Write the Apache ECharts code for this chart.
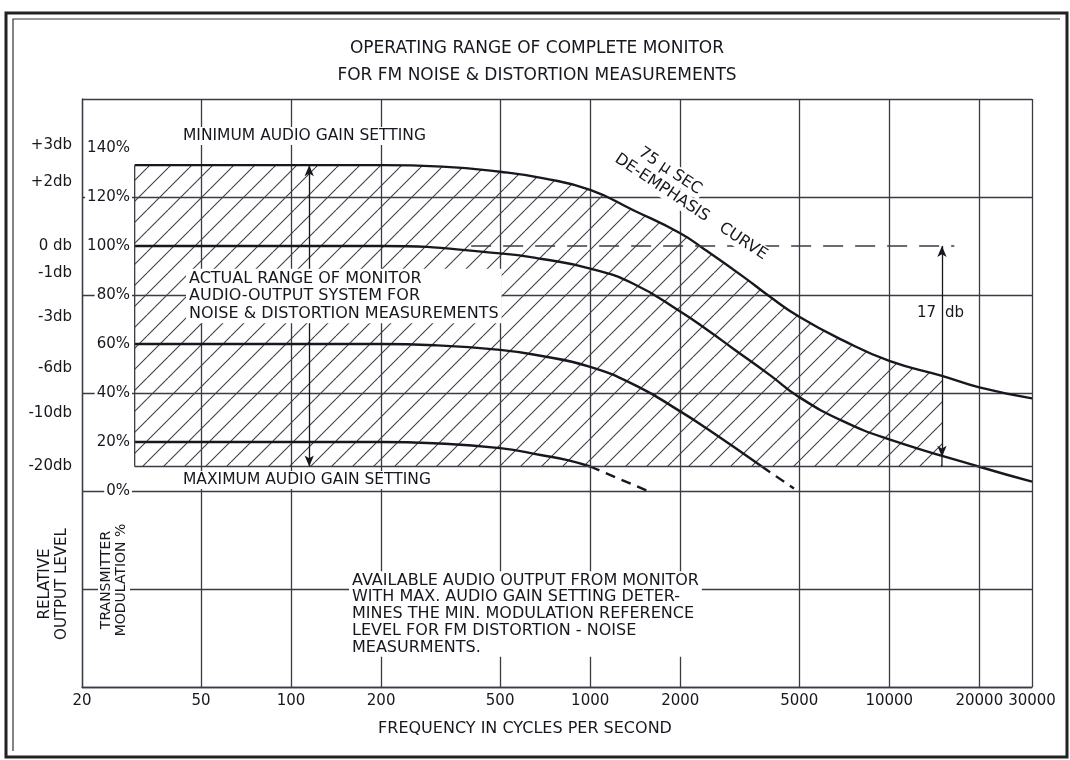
<!DOCTYPE html>
<html>
<head>
<meta charset="utf-8">
<script src="https://cdn.jsdelivr.net/npm/echarts@6.0.0/dist/echarts.min.js"></script>
<style>
  html, body { margin: 0; background: #fff; }
  #chart { width: 1070px; height: 760px; }
</style>
</head>
<body>
<div id="chart"></div>
<script>
// Operating range of complete monitor — FM noise & distortion measurements.
// Curves read off the scanned chart: x = frequency (Hz, log), y = transmitter modulation %.
const INK = '#17171f'
const GRID = '#3b3b45'
const FONT = '"DejaVu Sans", sans-serif'

const FREQ_TICKS = [20, 50, 100, 200, 500, 1000, 2000, 5000, 10000, 20000, 30000]
const PCT_LABELS = [0, 20, 40, 60, 80, 100, 120, 140]
const DB_LABELS = [3, 2, 0, -1, -3, -6, -10, -20]

// 75 µs de-emphasis curve (minimum audio gain, top of the range)
const TOP_F = [30, 110, 200, 320, 500, 700, 1000, 1400, 2000, 2420, 3290, 3920, 5000, 7000, 10000, 15000, 20000, 30000]
const TOP_P = [133, 133, 133, 132.4, 130.3, 127.6, 122.9, 114.5, 105.2, 98.5, 87, 80, 71.1, 61.5, 53.1, 47, 42.3, 37.8]
// curve starting at 100 %
const C100_F = [30, 200, 500, 700, 1000, 1400, 2000, 2500, 3000, 4000, 5000, 7000, 10000, 20000, 30000]
const C100_P = [100, 100, 97, 94.6, 90.8, 84.5, 73.3, 65.2, 58.2, 47.2, 38.3, 28.5, 21.1, 9.9, 3.8]
// curve starting at 60 %, dashed below the floor
const C60_F = [30, 200, 300, 500, 660, 1000, 1445, 2000, 2420, 3750]
const C60_P = [60, 60, 59.5, 57.6, 55.5, 50.7, 42.6, 32.5, 26, 10]
const C60_DASH_F = [3750, 4800]
const C60_DASH_P = [10, 1]
// curve starting at 20 %, dashed below the floor
const C20_F = [30, 200, 300, 500, 690, 840, 1000]
const C20_P = [20, 20, 19.5, 17.5, 14.6, 12.6, 10]
const C20_DASH_F = [1000, 1560]
const C20_DASH_P = [10, 0]

// maximum audio gain floor, hatched range limits, 0 db reference, arrows
const FLOOR_F = [30, 30000]
const FLOOR_P = 10
const HATCH_F = [30, 15000]
const REF_F = [400, 16500]
const REF_P = 100
const ARROW_F = [115, 15000]
const ARROW_TOP = [133, 100]
const ARROW_TIP = [10, 14]

const SMOOTH = 0.5
const zip = (f, p) => f.map((x, i) => [x, p[i]])

// diagonal hatch tile for the "actual range" area
function hatchTile() {
  const s = 21
  const c = document.createElement('canvas')
  c.width = c.height = s
  const g = c.getContext('2d')
  g.strokeStyle = '#40404a'
  g.lineWidth = 1.1
  g.beginPath()
  for (const o of [-s, 0, s]) { g.moveTo(o, s); g.lineTo(o + s, 0) }
  g.stroke()
  return c
}

const line = (data, o = {}) => ({
  type: 'line', data, showSymbol: false, silent: true,
  smooth: o.smooth || 0, z: o.z || 3,
  lineStyle: { color: o.color || INK, width: o.w || 2.4, type: o.dash || 'solid' },
})

const txt = (x, y, text, o = {}) => ({
  type: 'text', x, y, rotation: o.rot || 0, z: 50, silent: true,
  style: {
    text, fill: INK, fontFamily: FONT, fontSize: o.size || 15,
    align: o.align || 'left', verticalAlign: 'middle', lineHeight: o.lh,
    backgroundColor: o.bg ? '#fff' : null, padding: o.bg ? [1, 3] : 0,
  },
})

const chart = echarts.init(document.getElementById('chart'))
const floorSeries = line(zip(FLOOR_F, [FLOOR_P, FLOOR_P]), { color: GRID, w: 1.3 })
floorSeries.markLine = {
  silent: true, symbol: ['arrow', 'arrow'], symbolSize: [7, 11], label: { show: false },
  lineStyle: { color: INK, width: 1.3, type: 'solid' },
  data: ARROW_F.map((f, i) => [{ coord: [f, ARROW_TOP[i]] }, { coord: [f, ARROW_TIP[i]] }]),
}

chart.setOption({
  animation: false,
  backgroundColor: '#fff',
  grid: { left: 82, top: 99, right: 38, bottom: 73 },
  xAxis: {
    type: 'log', min: 20, max: 30000, logBase: 10,
    axisLine: { onZero: false, lineStyle: { color: GRID, width: 1.3 } },
    axisTick: { show: false, customValues: FREQ_TICKS },
    axisLabel: {
      customValues: FREQ_TICKS, margin: 7, color: INK, fontFamily: FONT, fontSize: 15,
      formatter: v => String(Math.round(v)),
    },
    splitLine: { show: true, lineStyle: { color: GRID, width: 1.3 } },
    minorSplitLine: { show: false },
  },
  yAxis: [
    {
      type: 'value', min: -80, max: 160, interval: 40, position: 'left',
      axisLine: { show: true, onZero: false, lineStyle: { color: GRID, width: 1.3 } },
      axisTick: { show: false },
      axisLabel: {
        customValues: PCT_LABELS, margin: -50, color: INK, fontFamily: FONT, fontSize: 15,
        backgroundColor: '#fff', padding: [1, 2], formatter: v => v + '%',
      },
      splitLine: { show: true, lineStyle: { color: GRID, width: 1.3 } },
    },
    {
      type: 'value', min: -80, max: 160, position: 'left', offset: 0,
      axisLine: { show: false }, axisTick: { show: false }, splitLine: { show: false },
      axisLabel: {
        customValues: DB_LABELS.map(d => 100 * Math.pow(10, d / 20)),
        margin: 10, color: INK, fontFamily: FONT, fontSize: 15,
        formatter: v => {
          const d = Math.round(20 * Math.log10(v / 100))
          return d === 0 ? '0 db' : (d > 0 ? '+' : '-') + Math.abs(d) + 'db'
        },
      },
    },
  ],
  series: [
    {
      type: 'line', silent: true, showSymbol: false, smooth: SMOOTH, z: 1,
      data: zip(TOP_F, TOP_P).filter(d => d[0] >= HATCH_F[0] && d[0] <= HATCH_F[1]),
      lineStyle: { width: 0, opacity: 0 },
      areaStyle: { color: { image: hatchTile(), repeat: 'repeat' }, opacity: 1, origin: FLOOR_P },
    },
    line(zip(TOP_F, TOP_P), { smooth: SMOOTH }),
    line(zip(C100_F, C100_P), { smooth: SMOOTH }),
    line(zip(C60_F, C60_P), { smooth: SMOOTH }),
    line(zip(C60_DASH_F, C60_DASH_P), { dash: [10, 7] }),
    line(zip(C20_F, C20_P), { smooth: SMOOTH }),
    line(zip(C20_DASH_F, C20_DASH_P), { dash: [10, 7] }),
    floorSeries,
    line([[HATCH_F[0], FLOOR_P], [HATCH_F[0], TOP_P[0]]], { color: GRID, w: 1.3 }),
    line([[ARROW_F[1], ARROW_TIP[1]], [ARROW_F[1], FLOOR_P]], { color: INK, w: 1.3 }),
    line(zip(REF_F, [REF_P, REF_P]), { color: GRID, w: 1.3, dash: [20, 12] }),
  ],
  graphic: [
    { type: 'rect', z: 0, silent: true, shape: { x: 6, y: 13, width: 1061, height: 744 },
      style: { fill: null, stroke: '#222', lineWidth: 3 } },
    { type: 'polyline', z: 0, silent: true, shape: { points: [[13, 751], [13, 19], [1060, 19]] },
      style: { fill: null, stroke: '#333', lineWidth: 1.2 } },
    txt(537, 62, 'OPERATING RANGE OF COMPLETE MONITOR\nFOR FM NOISE & DISTORTION MEASUREMENTS',
      { size: 17, align: 'center', lh: 27 }),
    txt(180, 136, 'MINIMUM AUDIO GAIN SETTING', { bg: true, size: 15.5 }),
    txt(180, 480, 'MAXIMUM AUDIO GAIN SETTING', { bg: true, size: 15.5 }),
    txt(186, 296, 'ACTUAL RANGE OF MONITOR\nAUDIO-OUTPUT SYSTEM FOR\nNOISE & DISTORTION MEASUREMENTS',
      { bg: true, size: 16, lh: 17.5 }),
    txt(670, 171, '75 µ SEC', { bg: true, size: 16, align: 'center', rot: -0.585 }),
    txt(691, 207, 'DE-EMPHASIS   CURVE', { bg: true, size: 16, align: 'center', rot: -0.585 }),
    txt(936, 313, '17', { align: 'right' }),
    txt(945, 313, 'db'),
    txt(349, 614, 'AVAILABLE AUDIO OUTPUT FROM MONITOR\nWITH MAX. AUDIO GAIN SETTING DETER-\nMINES THE MIN. MODULATION REFERENCE\nLEVEL FOR FM DISTORTION - NOISE\nMEASURMENTS.',
      { bg: true, size: 16, lh: 16.7 }),
    txt(525, 729, 'FREQUENCY IN CYCLES PER SECOND', { size: 16, align: 'center' }),
    txt(54, 584, 'RELATIVE\nOUTPUT LEVEL', { size: 15, align: 'center', lh: 17, rot: Math.PI / 2 }),
    txt(114, 580, 'TRANSMITTER\nMODULATION %', { size: 14, align: 'center', lh: 15, rot: Math.PI / 2, bg: true }),
  ],
})
</script>
</body>
</html>
